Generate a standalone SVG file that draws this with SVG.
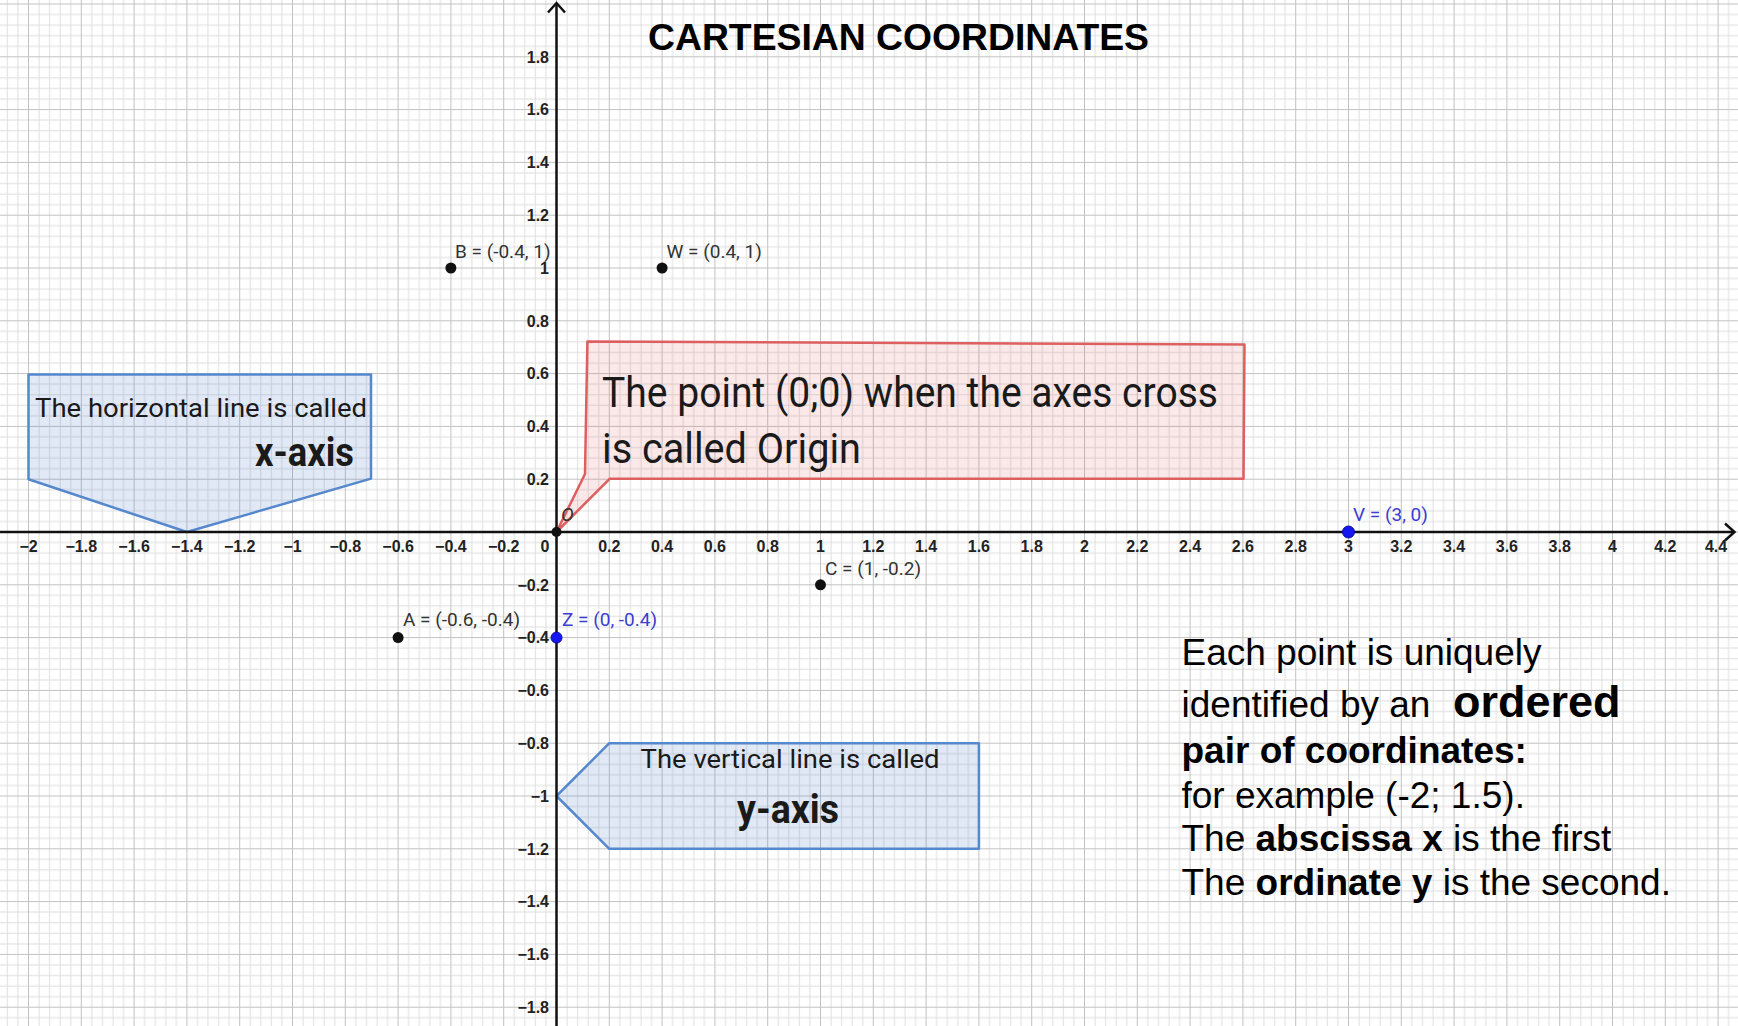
<svg xmlns="http://www.w3.org/2000/svg" width="1738" height="1026" viewBox="0 0 1738 1026">
<style>
.tx{font-family:"Liberation Sans",Arial,sans-serif;font-size:16px;font-weight:bold;fill:#222;text-anchor:middle}
.ty{font-family:"Liberation Sans",Arial,sans-serif;font-size:16px;font-weight:bold;fill:#222;text-anchor:end}
.pl{font-family:Roboto,"Liberation Sans",sans-serif;font-size:19px;fill:#333}
.bl{fill:#3c3cd2}
.pt{fill:#111}
.bp{fill:#1616ee;stroke:#0a0aa0;stroke-width:1}
.axis{stroke:#111;stroke-width:2.5;fill:none}
.cb{fill:rgb(70,120,200);fill-opacity:0.16;stroke:#5588cc;stroke-width:2.5;stroke-linejoin:round}
.cr{fill:rgb(230,90,90);fill-opacity:0.14;stroke:#dd5f5f;stroke-width:2.5;stroke-linejoin:round}
.ct{font-family:Roboto,"Liberation Sans",sans-serif;fill:#1a1a1a}
.rt{font-family:"Liberation Sans",Arial,sans-serif;font-size:37px;fill:#000}
.big{font-size:45px;font-weight:bold}
</style>
<defs>
<pattern id="grid" patternUnits="userSpaceOnUse" x="530.1" y="505.6" width="52.8" height="52.8">
<path d="M5.28 0V52.8M15.84 0V52.8M36.96 0V52.8M47.52 0V52.8M0 5.28H52.8M0 15.84H52.8M0 36.96H52.8M0 47.52H52.8" stroke="#dedede" stroke-width="1" fill="none"/>
<path d="M26.4 0V52.8M0 26.4H52.8" stroke="#c2c2c2" stroke-width="1" fill="none"/>
</pattern>
</defs>
<rect width="1738" height="1026" fill="#fff"/>
<rect width="1738" height="1026" fill="url(#grid)"/>

<g id="callouts">
<g id="xaxis-callout">
<polygon class="cb" points="28.5,374.6 371,374.6 371,478.6 186.9,532 28.5,479.2"/>
<text class="ct" x="35" y="417" font-size="26" textLength="332" lengthAdjust="spacingAndGlyphs">The horizontal line is called</text>
<text class="ct" x="255" y="466" font-size="40" font-weight="bold" textLength="99" lengthAdjust="spacingAndGlyphs">x-axis</text>
</g>
<g id="yaxis-callout">
<polygon class="cb" points="556.5,796 609.3,743.2 978.9,743.2 978.9,848.8 609.3,848.8"/>
<text class="ct" x="640.6" y="768" font-size="26" textLength="299" lengthAdjust="spacingAndGlyphs">The vertical line is called</text>
<text class="ct" x="737" y="823" font-size="40" font-weight="bold" textLength="102" lengthAdjust="spacingAndGlyphs">y-axis</text>
</g>
<g id="origin-callout">
<polygon class="cr" points="587.4,341.4 1244.5,344.5 1243.5,478.8 609.6,478.8 556.5,532 585,474"/>
<text class="ct" x="602" y="407" font-size="42" textLength="616" lengthAdjust="spacingAndGlyphs">The point (0;0) when the axes cross</text>
<text class="ct" x="602" y="463" font-size="42" textLength="259" lengthAdjust="spacingAndGlyphs">is called Origin</text>
</g>
</g>

<g id="axes">
<path class="axis" d="M0 532H1734M556.5 1026V3"/>
<path class="axis" d="M1725 523.5L1734.5 532L1725 540.5M548 12.5L556.5 3L565 12.5"/>
</g>

<g id="xticks">
<text class="tx" x="28.5" y="552">−2</text>
<text class="tx" x="81.3" y="552">−1.8</text>
<text class="tx" x="134.1" y="552">−1.6</text>
<text class="tx" x="186.9" y="552">−1.4</text>
<text class="tx" x="239.7" y="552">−1.2</text>
<text class="tx" x="292.5" y="552">−1</text>
<text class="tx" x="345.3" y="552">−0.8</text>
<text class="tx" x="398.1" y="552">−0.6</text>
<text class="tx" x="450.9" y="552">−0.4</text>
<text class="tx" x="503.7" y="552">−0.2</text>
<text class="tx" x="545" y="552">0</text>
<text class="tx" x="609.3" y="552">0.2</text>
<text class="tx" x="662.1" y="552">0.4</text>
<text class="tx" x="714.9" y="552">0.6</text>
<text class="tx" x="767.7" y="552">0.8</text>
<text class="tx" x="820.5" y="552">1</text>
<text class="tx" x="873.3" y="552">1.2</text>
<text class="tx" x="926.1" y="552">1.4</text>
<text class="tx" x="978.9" y="552">1.6</text>
<text class="tx" x="1031.7" y="552">1.8</text>
<text class="tx" x="1084.5" y="552">2</text>
<text class="tx" x="1137.3" y="552">2.2</text>
<text class="tx" x="1190.1" y="552">2.4</text>
<text class="tx" x="1242.9" y="552">2.6</text>
<text class="tx" x="1295.7" y="552">2.8</text>
<text class="tx" x="1348.5" y="552">3</text>
<text class="tx" x="1401.3" y="552">3.2</text>
<text class="tx" x="1454.1" y="552">3.4</text>
<text class="tx" x="1506.9" y="552">3.6</text>
<text class="tx" x="1559.7" y="552">3.8</text>
<text class="tx" x="1612.5" y="552">4</text>
<text class="tx" x="1665.3" y="552">4.2</text>
<text class="tx" x="1716" y="552">4.4</text>
</g>

<g id="yticks">
<text class="ty" x="549" y="62.5">1.8</text>
<text class="ty" x="549" y="115.3">1.6</text>
<text class="ty" x="549" y="168.1">1.4</text>
<text class="ty" x="549" y="220.9">1.2</text>
<text class="ty" x="549" y="273.7">1</text>
<text class="ty" x="549" y="326.5">0.8</text>
<text class="ty" x="549" y="379.3">0.6</text>
<text class="ty" x="549" y="432.1">0.4</text>
<text class="ty" x="549" y="484.9">0.2</text>
<text class="ty" x="549" y="590.5">−0.2</text>
<text class="ty" x="549" y="643.3">−0.4</text>
<text class="ty" x="549" y="696.1">−0.6</text>
<text class="ty" x="549" y="748.9">−0.8</text>
<text class="ty" x="549" y="801.7">−1</text>
<text class="ty" x="549" y="854.5">−1.2</text>
<text class="ty" x="549" y="907.3">−1.4</text>
<text class="ty" x="549" y="960.1">−1.6</text>
<text class="ty" x="549" y="1012.9">−1.8</text>
</g>

<g id="points">
<g id="point-O"><circle class="pt" cx="556.5" cy="532" r="5"/><text class="pl" x="561" y="521" font-style="italic">O</text></g>
<g id="point-B"><circle class="pt" cx="450.9" cy="268" r="5.5"/><text class="pl" x="455" y="258">B = (-0.4, 1)</text></g>
<g id="point-W"><circle class="pt" cx="662.1" cy="268" r="5.5"/><text class="pl" x="666.5" y="258">W = (0.4, 1)</text></g>
<g id="point-C"><circle class="pt" cx="820.5" cy="584.8" r="5.5"/><text class="pl" x="825" y="575">C = (1, -0.2)</text></g>
<g id="point-A"><circle class="pt" cx="398.1" cy="637.6" r="5.5"/><text class="pl" x="403" y="626">A = (-0.6, -0.4)</text></g>
<g id="point-Z"><circle class="bp" cx="556.5" cy="637.6" r="5.5"/><text class="pl bl" x="562" y="626">Z = (0, -0.4)</text></g>
<g id="point-V"><circle class="bp" cx="1348.5" cy="532" r="6"/><text class="pl bl" x="1353" y="521">V = (3, 0)</text></g>
</g>

<g id="title">
<text x="648" y="50" font-family="'Liberation Sans',Arial,sans-serif" font-size="37" font-weight="bold" fill="#000" textLength="501" lengthAdjust="spacingAndGlyphs">CARTESIAN COORDINATES</text>
</g>

<g id="explanation">
<text class="rt" x="1181.5" y="665">Each point is uniquely</text>
<text class="rt" x="1181.5" y="717">identified by an</text>
<text class="rt big" x="1453" y="717">ordered</text>
<text class="rt" x="1181.5" y="763" font-weight="bold">pair of coordinates:</text>
<text class="rt" x="1181.5" y="808">for example (-2; 1.5).</text>
<text class="rt" x="1181.5" y="851">The <tspan font-weight="bold">abscissa x</tspan> is the first</text>
<text class="rt" x="1181.5" y="895">The <tspan font-weight="bold">ordinate y</tspan> is the second.</text>
</g>
</svg>
